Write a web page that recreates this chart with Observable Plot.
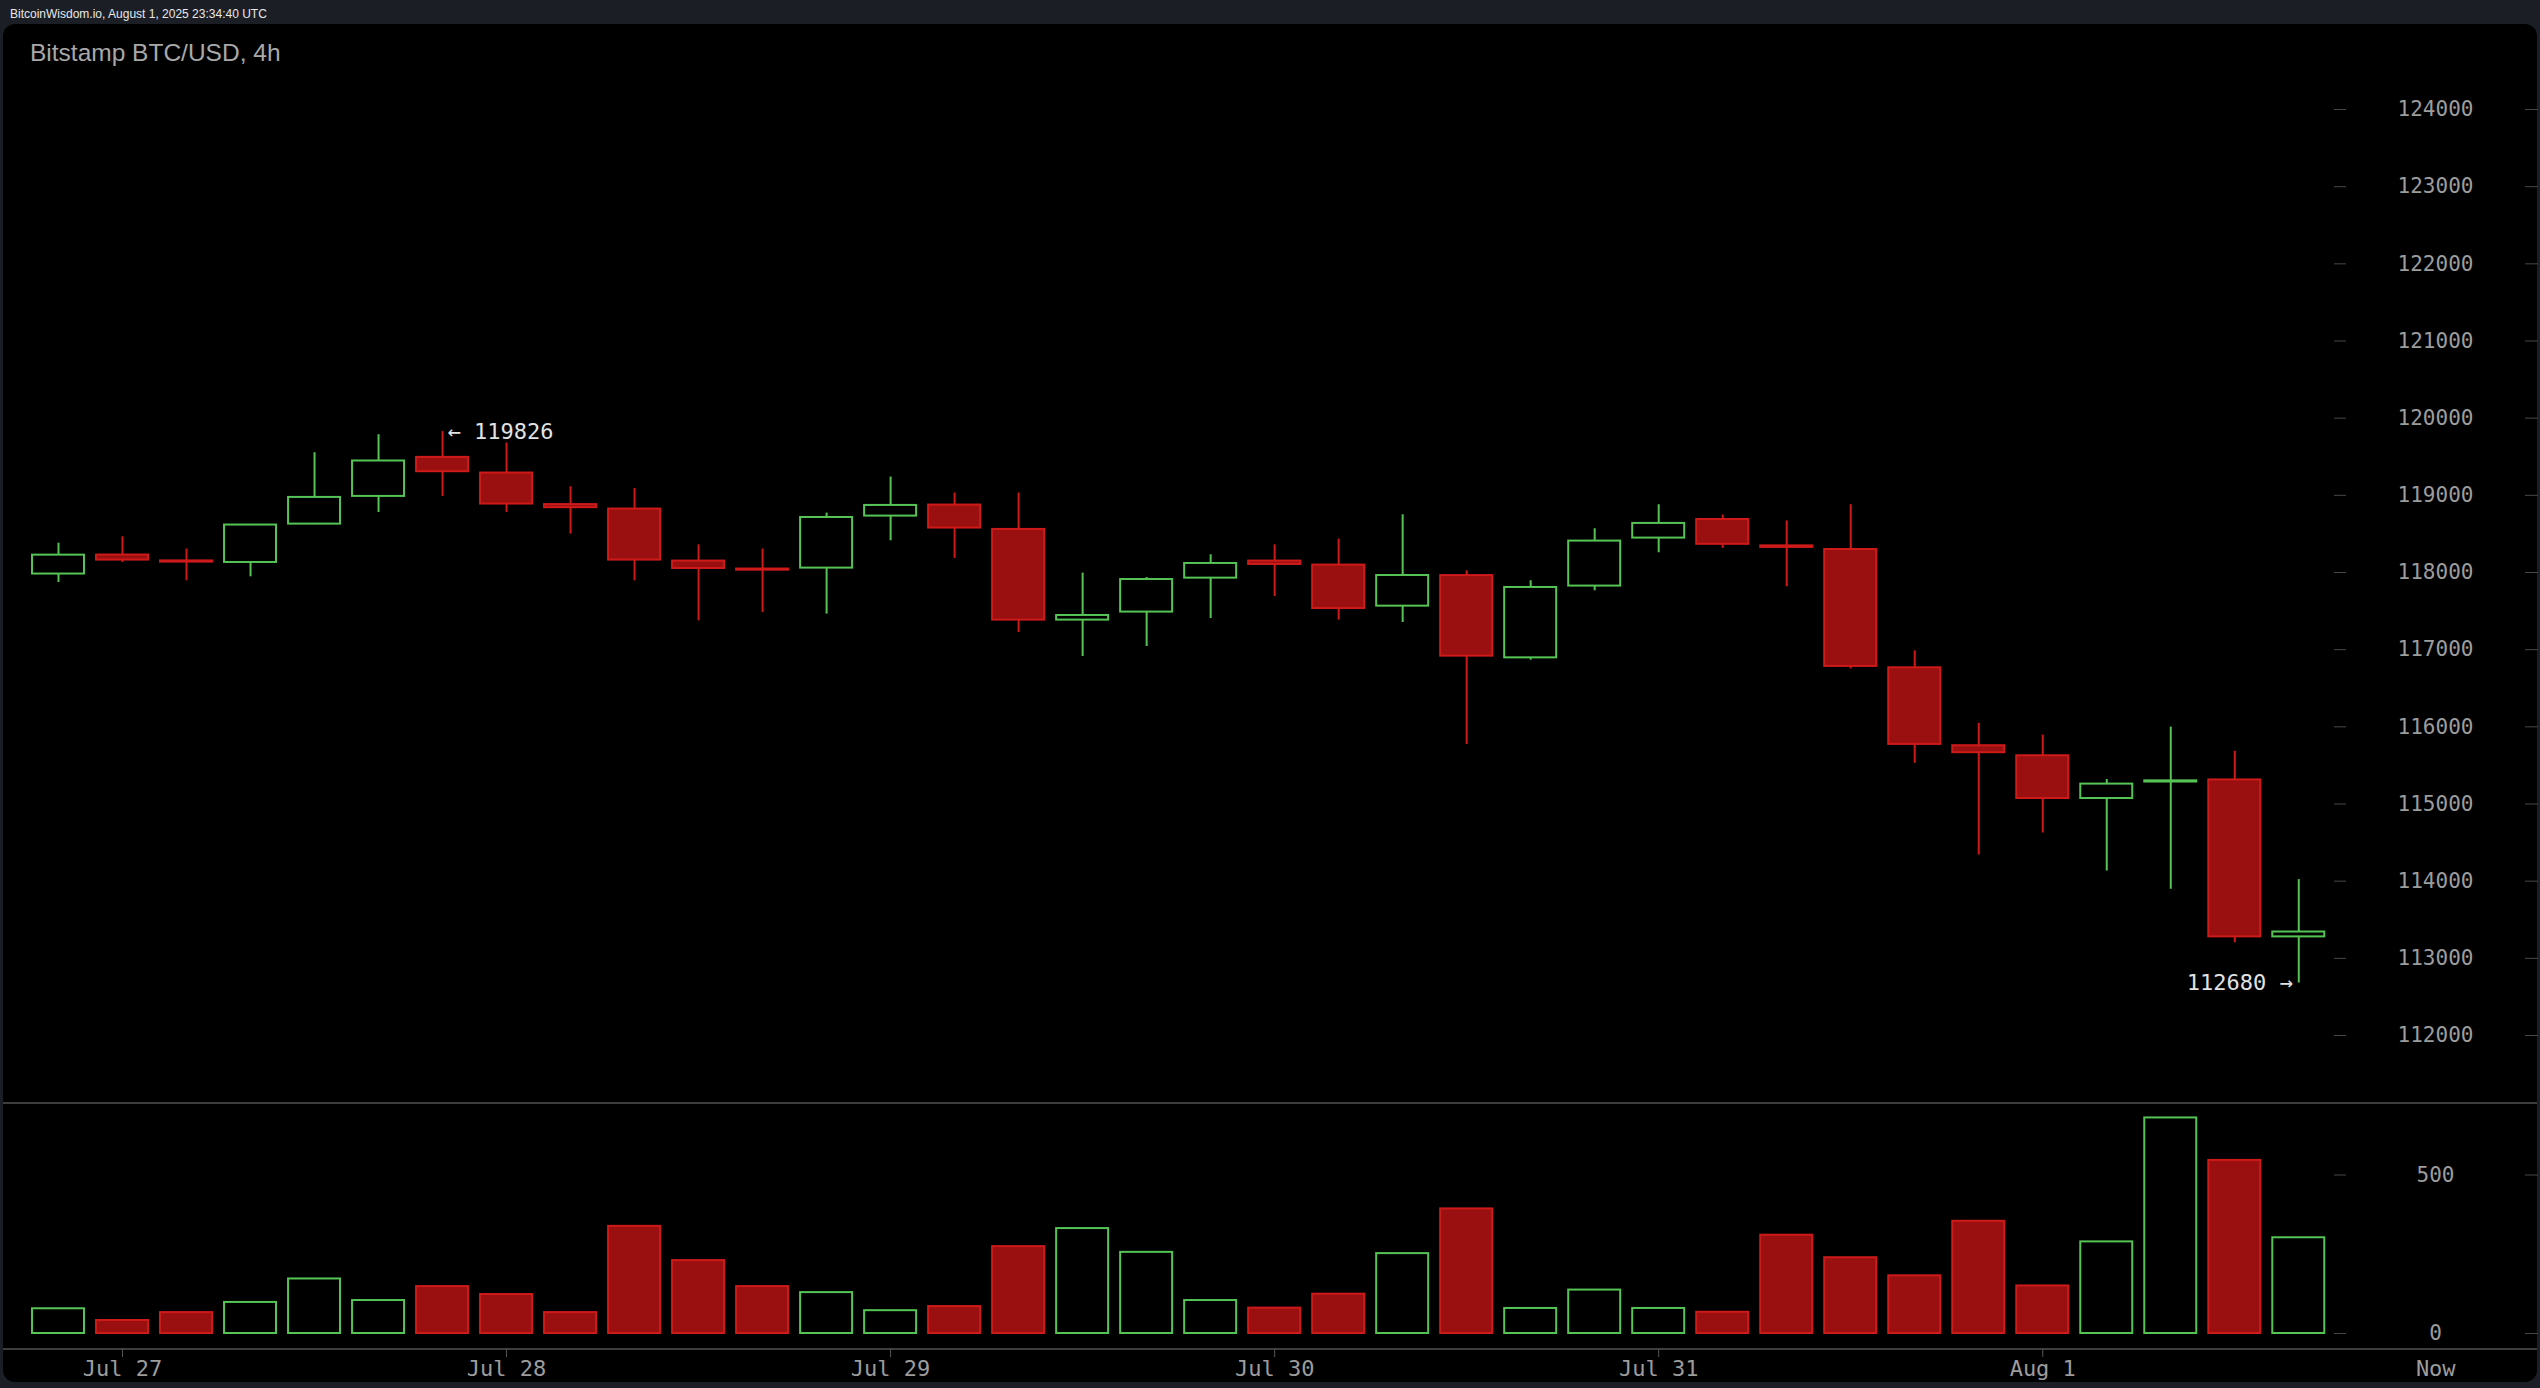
<!DOCTYPE html>
<html><head><meta charset="utf-8">
<script src="https://cdn.jsdelivr.net/npm/d3@7"></script>
<script src="https://cdn.jsdelivr.net/npm/@observablehq/plot@0.6"></script>
<style>
html,body{margin:0;padding:0;background:#1b1e25;width:2540px;height:1388px;overflow:hidden;}
#header{position:absolute;left:10px;top:8px;font:12px "Liberation Sans",Arial,sans-serif;color:#e8e8e8;line-height:12.5px;white-space:nowrap;}
#panel{position:absolute;left:3px;top:24px;width:2534px;height:1358px;background:#000;border-radius:12px;}
#title{position:absolute;left:30px;top:40px;font:24.5px "Liberation Sans",Arial,sans-serif;color:#a8a8a8;line-height:26px;white-space:nowrap;}
#price{position:absolute;left:0;top:24px;}
#volume{position:absolute;left:0;top:1103px;}
.hline{position:absolute;left:3px;width:2534px;height:2px;background:#3e3e3e;}
svg{overflow:visible;}
</style></head><body>
<div id="header">BitcoinWisdom.io, August 1, 2025 23:34:40 UTC</div>
<div id="panel"></div>
<div id="title">Bitstamp BTC/USD, 4h</div>
<div class="hline" style="top:1102px"></div>
<div class="hline" style="top:1348px"></div>
<div id="price"></div>
<div id="volume"></div>
<script>
// ---- data (4h candles, Jul 26 20:00 → Aug 1 16:00 UTC) ----
const open   = [117980,118226,118150,118130,118627,118986,119492,119289,118880,118822,118148,118045,
                118057,118731,118874,118558,117383,117487,117927,118148,118096,117564,117960,116894,
                117824,118446,118687,118345,118298,116765,115755,115625,115071,115285,115312,113278];
const high   = [118380,118463,118304,118620,119552,119786,119826,119678,119111,119089,118359,118304,
                118770,119237,119030,119030,117992,117935,118230,118359,118433,118748,118022,117893,
                118567,118878,118745,118669,118879,116984,116045,115893,115317,115996,115683,114020];
const low    = [117870,118130,117893,117944,118620,118778,118986,118778,118498,117893,117374,117482,
                117461,118411,118182,117222,116911,117041,117404,117689,117383,117352,115771,116864,
                117763,118256,118312,117815,116751,115527,114338,114624,114132,113895,113202,112680];
const close  = [118225,118161,118135,118615,118973,119445,119306,118887,118840,118161,118052,118030,
                118713,118869,118576,117383,117443,117909,118117,118104,117533,117961,116916,117806,
                118407,118636,118365,118325,116783,115772,115665,115071,115258,115300,113278,113341];
const volume = [78,41,66,98,172,104,148,123,66,338,230,148,
                129,72,85,274,331,256,104,80,124,252,393,79,
                137,79,67,310,239,182,354,150,289,680,546,302];
const dayTickIdx = [1,7,13,19,25,31];
const dayLabels  = ["Jul 27","Jul 28","Jul 29","Jul 30","Jul 31","Aug 1"];
const priceTicks = [112000,113000,114000,115000,116000,117000,118000,119000,120000,121000,122000,123000,124000];
const volTicks   = [0,500];

// ---- layout / style constants ----
const X_DOMAIN = [-0.5, 35.73];
const NOW_X = 37.14;
const HALF = 0.406;
const GREEN = "#55c455", RED_STROKE = "#cf1a1a", RED_FILL = "#9a1010";
const AXIS_TXT = "#9c9c9c", DASH = "#474747";
const FONT = "DejaVu Sans Mono";

const candles = open.map((o, i) => ({i, open: o, high: high[i], low: low[i], close: close[i], volume: volume[i], up: close[i] >= o}));
const maxI = d3.maxIndex(high), minI = d3.minIndex(low);

const price = Plot.plot({
  width: 2540, height: 1079,
  marginLeft: 26, marginRight: 195, marginTop: 85, marginBottom: 68,
  style: {background: "transparent", fontFamily: FONT, fontSize: "21px", overflow: "visible"},
  x: {domain: X_DOMAIN, axis: null},
  y: {domain: [112000, 124000]},
  marks: [
    Plot.axisY(priceTicks, {anchor: "right", label: null, tickSize: 0, tickPadding: 90, textAnchor: "middle", tickFormat: d => String(d), color: AXIS_TXT, fontSize: 21}),
    Plot.axisY(priceTicks, {anchor: "right", label: null, tickSize: 12, dx: -12, tickFormat: () => "", color: DASH}),
    Plot.axisY(priceTicks, {anchor: "right", label: null, tickSize: 13, dx: 179, tickFormat: () => "", color: DASH}),
    Plot.ruleX(candles, {x: "i", y1: "low", y2: "high", stroke: d => d.up ? GREEN : RED_STROKE, strokeWidth: 2}),
    Plot.rect(candles, {x1: d => d.i - HALF, x2: d => d.i + HALF, y1: "open", y2: "close",
      fill: d => d.up ? "#000000" : RED_FILL, stroke: d => d.up ? GREEN : RED_STROKE, strokeWidth: 2}),
    Plot.text([candles[maxI]], {x: "i", y: "high", text: d => "← " + d.high, textAnchor: "start", dx: 5, fill: "#e2e2e2", fontSize: 22, fontFamily: FONT}),
    Plot.text([candles[minI]], {x: "i", y: "low", text: d => d.low + " →", textAnchor: "end", dx: -6, fill: "#e2e2e2", fontSize: 22, fontFamily: FONT})
  ]
});
document.getElementById("price").appendChild(price);

const vol = Plot.plot({
  width: 2540, height: 285,
  marginLeft: 26, marginRight: 195, marginTop: 71.5, marginBottom: 55,
  style: {background: "transparent", fontFamily: FONT, fontSize: "21px", overflow: "visible"},
  x: {domain: X_DOMAIN},
  y: {domain: [0, 500]},
  marks: [
    Plot.axisY(volTicks, {anchor: "right", label: null, tickSize: 0, tickPadding: 90, textAnchor: "middle", tickFormat: d => String(d), color: AXIS_TXT, fontSize: 21}),
    Plot.axisY(volTicks, {anchor: "right", label: null, tickSize: 12, dx: -12, tickFormat: () => "", color: DASH}),
    Plot.axisY(volTicks, {anchor: "right", label: null, tickSize: 13, dx: 179, tickFormat: () => "", color: DASH}),
    Plot.rect(candles, {x1: d => d.i - HALF, x2: d => d.i + HALF, y1: 0, y2: "volume",
      fill: d => d.up ? "#000000" : RED_FILL, stroke: d => d.up ? GREEN : RED_STROKE, strokeWidth: 2}),
    Plot.axisX(dayTickIdx, {anchor: "bottom", label: null, tickSize: 8, tickPadding: 3, dy: 16, tickFormat: d => dayLabels[dayTickIdx.indexOf(d)], color: "#555555", fill: AXIS_TXT, fontSize: 22}),
    Plot.axisX([NOW_X], {anchor: "bottom", label: null, tickSize: 0, tickPadding: 11, dy: 16, tickFormat: () => "Now", color: AXIS_TXT, fontSize: 22})
  ]
});
document.getElementById("volume").appendChild(vol);
</script>
</body></html>
